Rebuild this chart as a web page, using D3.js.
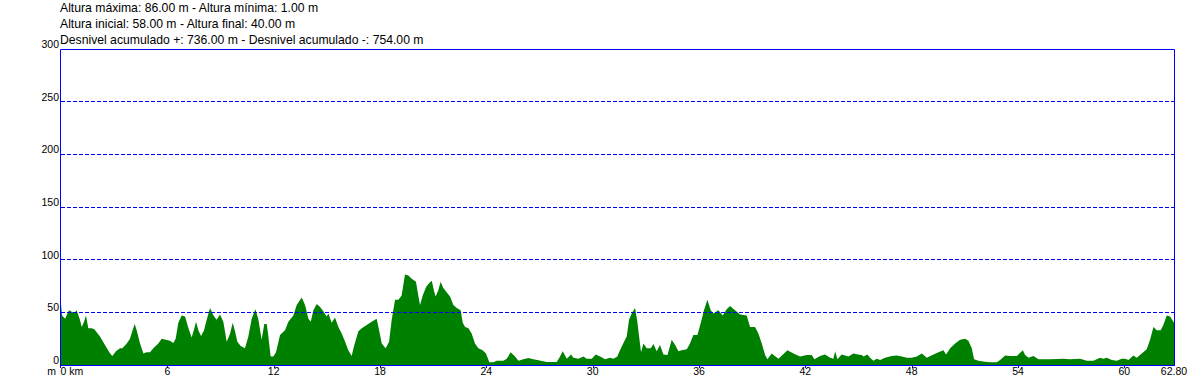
<!DOCTYPE html>
<html>
<head>
<meta charset="utf-8">
<script src="https://cdn.jsdelivr.net/npm/d3@7"></script>
<style>
  body { margin: 0; background: #fff; }
  svg { display: block; font-family: "Liberation Sans", Arial, sans-serif; }
</style>
</head>
<body>
<svg id="chart" width="1204" height="384"></svg>
<script>
// header lines
const headerLines = [
  'Altura máxima: 86.00 m - Altura mínima: 1.00 m',
  'Altura inicial: 58.00 m - Altura final: 40.00 m',
  'Desnivel acumulado +: 736.00 m - Desnivel acumulado -: 754.00 m'
];

// distance (km) and elevation (m)
const distKm = [
  0, 0.06, 0.23, 0.45, 0.66, 0.79, 0.88, 1.07, 1.17, 1.30, 1.41, 1.54, 1.73, 1.88, 2.20, 2.48, 2.77, 2.90,
  3.10, 3.33, 3.46, 3.71, 3.89, 4.04, 4.16, 4.27, 4.46, 4.65, 4.83, 5.02, 5.21, 5.49, 5.68, 5.91, 6.15, 6.34,
  6.47, 6.62, 6.81, 7.00, 7.19, 7.37, 7.51, 7.62, 7.75, 7.90, 8.07, 8.22, 8.41, 8.60, 8.78, 8.97, 9.16, 9.35,
  9.54, 9.69, 9.82, 9.95, 10.14, 10.38, 10.57, 10.76, 10.97, 11.14, 11.32, 11.47, 11.61, 11.70, 11.83, 11.98,
  12.13, 12.36, 12.64, 12.83, 12.92, 13.11, 13.30, 13.58, 13.77, 13.96, 14.09, 14.24, 14.43, 14.62, 14.80,
  14.99, 15.09, 15.27, 15.46, 15.65, 15.84, 16.03, 16.21, 16.40, 16.55, 16.78, 16.97, 17.25, 17.53, 17.81,
  17.91, 18.10, 18.32, 18.51, 18.66, 18.85, 19.04, 19.22, 19.41, 19.60, 19.79, 20.03, 20.16, 20.26, 20.41,
  20.60, 20.79, 20.92, 21.05, 21.14, 21.29, 21.42, 21.57, 21.76, 21.95, 22.14, 22.33, 22.55, 22.67, 22.80,
  22.99, 23.17, 23.36, 23.55, 23.79, 23.98, 24.17, 24.40, 24.58, 24.96, 25.15, 25.37, 25.62, 25.81, 26.09,
  26.37, 26.65, 26.94, 27.41, 27.97, 28.12, 28.31, 28.54, 28.78, 28.91, 29.19, 29.48, 29.66, 29.95, 30.17,
  30.42, 30.70, 30.98, 31.17, 31.39, 31.54, 31.77, 31.92, 32.05, 32.20, 32.39, 32.52, 32.64, 32.73, 32.86,
  33.05, 33.28, 33.43, 33.61, 33.80, 33.99, 34.22, 34.46, 34.65, 34.84, 35.02, 35.31, 35.49, 35.68, 35.91,
  36.10, 36.28, 36.47, 36.66, 36.81, 37.09, 37.34, 37.56, 37.75, 38.03, 38.32, 38.69, 38.88, 39.16, 39.35,
  39.54, 39.73, 39.86, 40.10, 40.48, 40.99, 41.33, 41.70, 42.08, 42.36, 42.51, 42.83, 43.11, 43.40, 43.58,
  43.68, 43.81, 44.05, 44.43, 44.71, 44.96, 45.18, 45.28, 45.50, 45.65, 45.84, 46.03, 46.22, 46.50, 46.87,
  47.16, 47.44, 47.72, 48.00, 48.29, 48.57, 48.85, 49.23, 49.51, 49.79, 49.94, 50.17, 50.45, 50.73, 51.01,
  51.20, 51.39, 51.52, 51.76, 52.14, 52.42, 52.80, 52.99, 53.27, 53.55, 53.93, 54.08, 54.27, 54.40, 54.59,
  54.87, 55.15, 55.81, 56.56, 56.94, 57.50, 57.88, 58.25, 58.63, 58.82, 59.01, 59.29, 59.57, 59.85, 60.04,
  60.23, 60.51, 60.70, 60.98, 61.26, 61.45, 61.64, 61.83, 62.05, 62.20, 62.39, 62.58, 62.80
];
const elevM = [
  58, 47, 44, 52, 50, 50, 52, 43, 36, 41, 47, 35, 35, 34, 27, 19, 11, 8.5,
  13, 16, 16, 20.5, 25, 33, 39, 33, 20.5, 11, 12, 12, 16, 20.5, 25, 24, 23, 21,
  25, 40, 47, 46, 35, 26, 34, 41, 33, 27.5, 33, 43, 54, 47, 43, 48, 41, 22,
  30, 40, 32, 22, 18, 16, 27, 44, 53, 43, 24, 39, 39, 27, 8, 8,
  12, 28.5, 33, 41, 43, 47, 57, 64, 57, 44, 41, 52, 58, 55, 51,
  46, 49, 40, 45, 36, 30, 22, 14, 8.5, 19, 32, 35, 38, 41, 44,
  36, 20.5, 16, 22, 43, 62, 62, 66, 86, 85, 82, 79, 66, 57, 66,
  74, 78, 80, 70, 65, 71, 79, 73, 69, 65, 57, 54, 52, 40, 36,
  35, 30, 20.5, 16, 14, 11, 2.5, 2.5, 4, 4, 6, 12, 8, 4, 5.4,
  6.6, 5.4, 4.4, 2.8, 2.8, 7, 13, 6, 10, 7, 6, 8, 6, 6, 10,
  8, 5.4, 7, 6, 8, 14, 22, 27, 43, 49, 54, 41, 24, 12, 20.5,
  16, 16, 20, 13, 19, 10, 9.5, 24, 19, 13, 14, 15, 20.5, 28.5, 28.5,
  40, 52, 62, 52, 49, 52, 47, 53, 56, 52, 48, 47, 36, 36, 30,
  20.5, 9.5, 5.4, 11, 6, 14, 11, 8, 9.5, 9.5, 5.4, 8.5, 10, 7, 6,
  13, 5.4, 10, 8, 11, 10, 9.5, 8, 10, 7, 4, 6, 4.7, 7, 8.5,
  9, 8, 7, 7, 8, 11, 7, 10, 12, 14, 10, 16, 20.5, 24, 25,
  23, 16, 5.4, 4, 3, 2.5, 2.5, 4.7, 9, 8.5, 8.5, 11, 14, 9.5, 7,
  8.5, 5.4, 5.4, 6, 5.4, 6, 4, 4, 7, 6, 7, 4.7, 4, 6, 6,
  4.7, 9, 7, 11, 15, 24, 36, 33, 33, 38, 47, 46, 40
];

// axis ticks
const yTicks = [0, 50, 100, 150, 200, 250, 300];
const xTicks = [6, 12, 18, 24, 30, 36, 42, 48, 54, 60];
const xEnd = 62.8;

const profile = distKm.map((d, i) => ({ d, e: elevM[i] }));

const svg = d3.select('#chart');
const plotLeft = 61, plotRight = 1174, plotTop = 49, plotBottom = 365;

const x = d3.scaleLinear().domain([0, xEnd]).range([plotLeft, plotRight]);
const y = d3.scaleLinear().domain([0, 300]).range([plotBottom, plotTop]);

// header text
svg.append('g')
  .selectAll('text')
  .data(headerLines)
  .enter()
  .append('text')
  .attr('x', 60)
  .attr('y', (d, i) => 12 + i * 16.2)
  .style('font-size', '12.2px')
  .attr('fill', '#000')
  .text(d => d);

// elevation area
const area = d3.area()
  .x(p => x(p.d))
  .y0(y(0))
  .y1(p => y(p.e));

svg.append('path')
  .datum(profile)
  .attr('d', area)
  .attr('fill', '#008000');

// dashed grid lines
svg.append('g')
  .selectAll('line')
  .data(yTicks.filter(v => v > 0 && v < 300))
  .enter()
  .append('line')
  .attr('x1', plotLeft)
  .attr('x2', plotRight)
  .attr('y1', v => Math.floor(y(v)) + 0.5)
  .attr('y2', v => Math.floor(y(v)) + 0.5)
  .attr('stroke', '#0000ff')
  .attr('stroke-dasharray', '4,2');

// frame: left, top, right, bottom (1px, pixel aligned)
const frame = svg.append('g').attr('stroke', '#0000ff').attr('stroke-width', 1).attr('fill', 'none');
frame.append('path')
  .attr('d', `M${plotLeft - 0.5},${plotBottom + 3}V${plotTop + 0.5}H${plotRight + 0.5}V${plotBottom + 1}`);
frame.append('line')
  .attr('x1', plotLeft - 0.5).attr('x2', plotRight + 0.5)
  .attr('y1', plotBottom + 0.5).attr('y2', plotBottom + 0.5);

// y labels
svg.append('g')
  .selectAll('text')
  .data(yTicks)
  .enter()
  .append('text')
  .attr('x', 59)
  .attr('y', v => y(v) - 1)
  .attr('text-anchor', 'end')
  .style('font-size', '10.5px')
  .text(v => v);

// x ticks and labels
const xg = svg.append('g');
xg.selectAll('line')
  .data(xTicks)
  .enter()
  .append('line')
  .attr('x1', v => Math.round(x(v)) + 0.5).attr('x2', v => Math.round(x(v)) + 0.5)
  .attr('y1', plotBottom).attr('y2', plotBottom + 3)
  .attr('stroke', '#0000ff');

xg.selectAll('text')
  .data(xTicks.concat([xEnd]))
  .enter()
  .append('text')
  .attr('x', v => x(v))
  .attr('y', 375)
  .attr('text-anchor', 'middle')
  .style('font-size', '10.5px')
  .text(v => v === xEnd ? v.toFixed(2) : v);

xg.append('text')
  .attr('x', 56).attr('y', 375)
  .attr('text-anchor', 'end')
  .style('font-size', '10.5px')
  .text('m');
xg.append('text')
  .attr('x', 60.5).attr('y', 375)
  .style('font-size', '10.5px')
  .text('0 km');
</script>
</body>
</html>
